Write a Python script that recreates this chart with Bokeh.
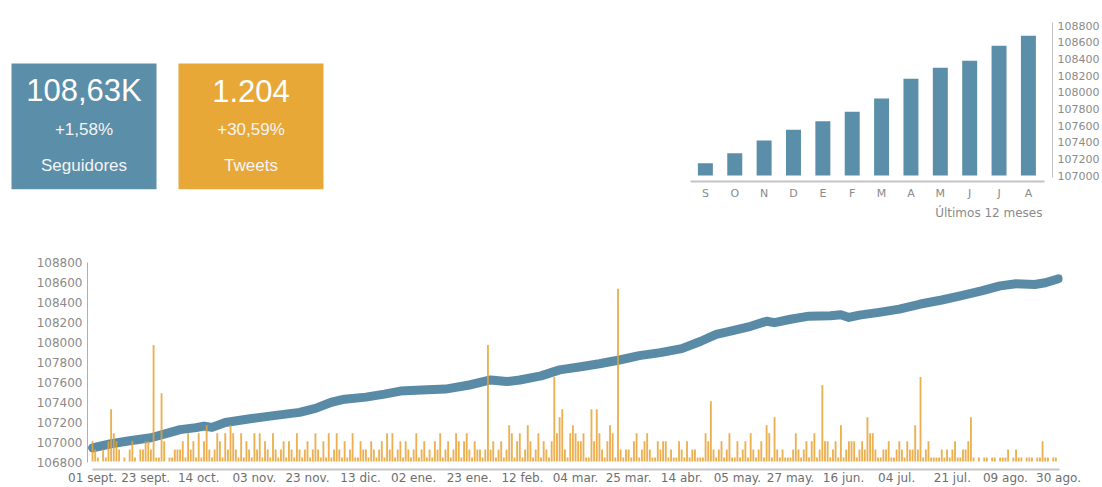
from bokeh.plotting import figure
from bokeh.layouts import row, column
from bokeh.models import Range1d, FixedTicker, Title, ColumnDataSource, BasicTickFormatter
from bokeh.core.properties import value
from bokeh.embed import file_html
from bokeh.resources import INLINE

# ---------------- data ----------------
kpi_values = ["108,63K", "1.204"]
kpi_changes = ["+1,58%", "+30,59%"]
kpi_labels = ["Seguidores", "Tweets"]

months = ["S", "O", "N", "D", "E", "F", "M", "A", "M", "J", "J", "A"]
month_followers = [107148, 107268, 107420, 107548, 107652, 107764,
                   107924, 108160, 108292, 108376, 108556, 108676]
mini_caption = "Últimos 12 meses"

date_labels = ["01 sept.", "23 sept.", "14 oct.", "03 nov.", "23 nov.", "13 dic.",
               "02 ene.", "23 ene.", "12 feb.", "04 mar.", "25 mar.", "14 abr.",
               "05 may.", "27 may.", "16 jun.", "04 jul.", "21 jul.", "09 ago.", "30 ago."]

follower_days = [0, 7, 14, 22, 29, 33, 39, 42, 45, 50, 60, 69, 78, 84, 90, 95, 103, 110, 116, 124,
                 133, 142, 150, 156, 161, 169, 176, 184, 191, 199, 206, 214, 222, 229, 235, 240,
                 248, 254, 257, 263, 270, 278, 282, 285, 289, 297, 304, 312, 320, 327, 335, 342,
                 348, 355, 359, 364]
followers = [106951, 106992, 107022, 107052, 107103, 107133, 107153, 107168, 107155, 107204,
             107244, 107275, 107305, 107345, 107406, 107436, 107457, 107487, 107517, 107527,
             107537, 107578, 107628, 107612, 107628, 107669, 107729, 107760, 107790, 107830,
             107871, 107901, 107941, 108012, 108083, 108113, 108164, 108214, 108200, 108234,
             108265, 108268, 108278, 108252, 108275, 108305, 108335, 108386, 108426, 108467,
             108517, 108567, 108588, 108580, 108598, 108638]

tweets = [
    3, 2, 1, 0, 2, 1, 3, 7, 4, 3, 2, 0, 1, 0, 2, 3, 1, 0, 2, 2,
    3, 3, 2, 15, 1, 1, 9, 3, 0, 1, 1, 2, 2, 2, 3, 1, 4, 2, 3, 1,
    4, 1, 3, 5, 2, 1, 2, 4, 3, 1, 4, 2, 5, 4, 2, 1, 4, 1, 3, 2,
    1, 4, 2, 4, 1, 3, 2, 1, 4, 2, 1, 2, 3, 1, 3, 2, 1, 4, 2, 1,
    2, 3, 1, 2, 4, 2, 1, 3, 1, 4, 1, 2, 4,
    2, 1, 3, 1, 2, 4, 1, 1, 3, 2, 2, 1, 3, 2, 1, 2, 3, 1, 4, 2,
    4, 1, 2, 3, 1, 3, 2, 1, 2, 4, 1, 2, 3, 1, 2, 1, 3, 2, 4, 1,
    2, 3, 1, 2, 4, 3, 1, 3, 4, 2, 1, 3, 2, 2, 1, 2, 15, 2, 3, 1,
    2, 3, 1, 2, 5, 4, 1, 3, 4, 1, 2, 5, 3, 1, 2, 4, 1, 3, 2, 1,
    3, 11, 4, 6, 7, 2, 1, 4, 5, 4, 3,
    3, 4, 1, 1, 7, 3, 7, 4, 2, 1, 3, 5, 4, 1, 22, 2, 1, 2, 2, 1,
    3, 4, 1, 2, 3, 4, 2, 1, 1, 3, 2, 3, 3, 1, 2, 1, 1, 3, 2, 1,
    3, 1, 2, 2, 1, 1, 1, 4, 3, 8, 2, 1, 2, 3, 1, 2, 4, 1, 1, 3,
    1, 2, 3, 1, 4, 2, 1, 2, 3, 1, 5, 4, 1, 6, 2, 1, 2, 1, 1, 1,
    2, 4, 2, 1, 2, 3, 1, 3, 4, 1, 2, 10, 3,
    3, 1, 2, 3, 1, 5, 1, 2, 3, 3, 3, 1, 2, 3, 2, 6, 4, 4, 2, 1,
    1, 2, 2, 3, 1, 1, 2, 3, 2, 1, 3, 2, 2, 5, 2, 11, 1, 2, 3, 1,
    1, 1, 1, 2, 1, 2, 1, 2, 3, 1, 1, 2, 2, 3, 6, 1, 0, 1, 0, 1,
    1, 0, 1, 1, 0, 1, 1, 1, 2, 0, 1, 2, 1, 1, 0, 1, 1, 1, 0, 1, 1, 3, 1, 1, 0, 1, 1, 0,
]

# ---------------- styles ----------------
BLUE = "#5B8EA9"
ORANGE = "#E8A838"
LINE_BLUE = "#5A8BA6"
BAR_ORANGE = "#E8A232"
AXIS_GRAY = "#c4c4c4"
TXT_GRAY = "#8a8a8a"
FONT = "DejaVu Sans"
plain = BasicTickFormatter(use_scientific=False)


def bare_ticks(ax):
    ax.major_tick_line_color = None
    ax.minor_tick_line_color = None
    ax.major_tick_out = 0
    ax.major_tick_in = 0
    ax.minor_tick_out = 0
    ax.minor_tick_in = 0


# ---------------- KPI boxes (page-pixel coordinates) ----------------
kpi = figure(width=660, height=230, x_range=Range1d(0, 660), y_range=Range1d(189, 22),
             toolbar_location=None, output_backend="svg",
             min_border_left=0, min_border_right=0, min_border_top=22, min_border_bottom=41,
             x_axis_location=None, y_axis_location=None, outline_line_color=None)
kpi.xgrid.visible = False
kpi.ygrid.visible = False
box_left = [11, 178]
box_w = 145
kpi.quad(left=box_left, right=[l + box_w for l in box_left], top=[63, 63], bottom=[189, 189],
         color=[BLUE, ORANGE], line_color=None)
cx = [l + box_w / 2 for l in box_left]
kpi.text(x=cx, y=[90, 90], text=kpi_values, text_align="center", text_baseline="middle",
         text_font=value("Liberation Sans"), text_font_size="31px", text_color="white")
kpi.text(x=cx, y=[129, 129], text=kpi_changes, text_align="center", text_baseline="middle",
         text_font=value("Liberation Sans"), text_font_size="17px", text_color="#f4f4f4")
kpi.text(x=cx, y=[165, 165], text=kpi_labels, text_align="center", text_baseline="middle",
         text_font=value("Liberation Sans"), text_font_size="17px", text_color="#f4f4f4")

# ---------------- mini monthly bar chart ----------------
mx = list(range(len(months)))
mini = figure(width=442, height=222, x_range=Range1d(-0.507, 11.82),
              y_range=Range1d(106928, 108836), y_axis_location="right",
              toolbar_location=None, output_backend="svg",
              min_border_left=30, min_border_right=47, min_border_top=22, min_border_bottom=41,
              outline_line_color=None)
mini.xgrid.visible = False
mini.ygrid.visible = False
mini.vbar(x=mx, top=month_followers, bottom=107000, width=0.51, color=BLUE, line_color=None)
mini.xaxis.ticker = FixedTicker(ticks=mx)
mini.xaxis.major_label_overrides = {i: m for i, m in enumerate(months)}
mini.xaxis.bounds = (-0.507, 11.55)
mini.xaxis.axis_line_color = AXIS_GRAY
mini.xaxis.axis_line_width = 2
bare_ticks(mini.xaxis)
mini.xaxis.major_label_standoff = 5
mini.xaxis.major_label_text_font = FONT
mini.xaxis.major_label_text_font_size = "11px"
mini.xaxis.major_label_text_color = TXT_GRAY
mini.yaxis.ticker = FixedTicker(ticks=list(range(107000, 108801, 200)))
mini.yaxis.formatter = plain
mini.yaxis.bounds = (106976, 108836)
mini.yaxis.axis_line_color = AXIS_GRAY
bare_ticks(mini.yaxis)
mini.yaxis.major_label_standoff = 5
mini.yaxis.major_label_text_font = FONT
mini.yaxis.major_label_text_font_size = "11px"
mini.yaxis.major_label_text_color = TXT_GRAY
mini.add_layout(Title(text=mini_caption, align="right", offset=10, standoff=2,
                      text_font=FONT, text_font_size="12px", text_font_style="normal",
                      text_color=TXT_GRAY), "below")

# ---------------- main chart ----------------
days = list(range(len(tweets)))
src = ColumnDataSource(dict(x=[d for d, t in zip(days, tweets) if t > 0],
                            top=[t for t in tweets if t > 0]))
main = figure(width=1102, height=257, x_range=Range1d(-1.9, 365.5),
              y_range=Range1d(106735, 108800), toolbar_location=None, output_backend="svg",
              min_border_left=87, min_border_right=40, min_border_top=32, min_border_bottom=18,
              outline_line_color=None)
main.extra_y_ranges = {"tw": Range1d(-0.5, 25.25)}
main.xgrid.visible = False
main.ygrid.visible = False
main.line(follower_days, followers, line_width=9, color=LINE_BLUE,
          line_cap="round", line_join="round")
main.vbar(x="x", top="top", bottom=0.5, width=0.7, source=src, y_range_name="tw",
          color=BAR_ORANGE, line_color=None, fill_alpha=0.85)

n = len(date_labels) - 1
tick_pos = [round(k * (len(tweets) - 1) / n) for k in range(n + 1)]
main.xaxis.ticker = FixedTicker(ticks=tick_pos)
main.xaxis.major_label_overrides = {t: lab for t, lab in zip(tick_pos, date_labels)}
main.xaxis.bounds = (0, 364.5)
main.xaxis.axis_line_color = AXIS_GRAY
main.xaxis.axis_line_width = 2
bare_ticks(main.xaxis)
main.xaxis.major_label_standoff = 1
main.xaxis.major_label_text_font = FONT
main.xaxis.major_label_text_font_size = "12px"
main.xaxis.major_label_text_color = "#6e6e6e"
main.yaxis.ticker = FixedTicker(ticks=list(range(106800, 108801, 200)))
main.yaxis.formatter = plain
main.yaxis.bounds = (106800, 108800)
main.yaxis.axis_line_color = "#b0b0b0"
bare_ticks(main.yaxis)
main.yaxis.major_label_standoff = 5
main.yaxis.major_label_text_font = FONT
main.yaxis.major_label_text_font_size = "12px"
main.yaxis.major_label_text_color = TXT_GRAY

layout = column(row(kpi, mini), main)
open("out.html", "w").write(file_html(layout, INLINE))
